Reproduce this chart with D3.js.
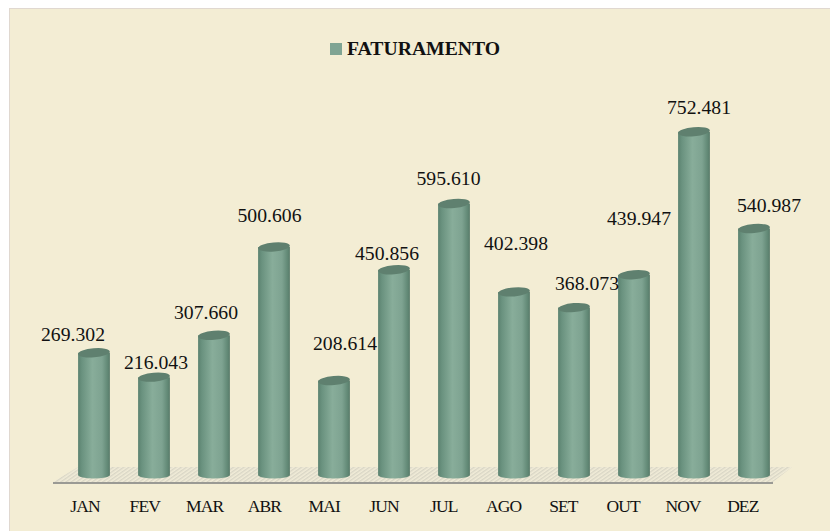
<!DOCTYPE html>
<html>
<head>
<meta charset="utf-8">
<script src="https://cdnjs.cloudflare.com/ajax/libs/d3/7.8.5/d3.min.js"></script>
<style>
  html, body { margin: 0; padding: 0; background: #fff; }
  text { font-family: "Liberation Serif", serif; fill: #111; }
</style>
</head>
<body>
<svg id="chart"></svg>
<script>
var months = ["JAN","FEV","MAR","ABR","MAI","JUN","JUL","AGO","SET","OUT","NOV","DEZ"];
var faturamento = [269302,216043,307660,500606,208614,450856,595610,402398,368073,439947,752481,540987];
var valueLabels = ["269.302","216.043","307.660","500.606","208.614","450.856","595.610","402.398","368.073","439.947","752.481","540.987"];

// the labels were dragged by hand in the original, so each one has its own nudge
var labelDx = [-21,2,-8,-4.5,11,-7,-5.5,2,13,5,5,15];
var labelDy = [-12,-8,-16,-25,-31,-10,-19,-42,-18,-50,-18,-16];

var screen = { width: 830, height: 531 };

var svg = d3.select("#chart")
  .attr("width", screen.width)
  .attr("height", screen.height)
  .style("display", "block");

var xScale = d3.scaleBand()
  .domain(months)
  .range([64, 784])
  .paddingInner(0.47)
  .paddingOuter(0.235);

var yScale = d3.scaleLinear()
  .domain([0, 800000])
  .range([476, 110]);

var defs = svg.append("defs");

var grad = defs.append("linearGradient").attr("id", "cyl");
grad.selectAll("stop")
  .data([[0,"#5b8270"],[0.12,"#6a927f"],[0.45,"#88ad9a"],[0.75,"#7ea391"],[0.93,"#618875"],[1,"#587a69"]])
  .enter().append("stop")
  .attr("offset", function(d){ return d[0]; })
  .attr("stop-color", function(d){ return d[1]; });

var hatch = defs.append("pattern")
  .attr("id", "hatch")
  .attr("width", 3).attr("height", 3)
  .attr("patternUnits", "userSpaceOnUse")
  .attr("patternTransform", "rotate(-35)");
hatch.append("rect").attr("width", 3).attr("height", 3).attr("fill", "#f1ecd8");
hatch.append("rect").attr("width", 3).attr("height", 1.4).attr("fill", "#d9d6c6");

// chart panel, runs off the right and bottom of the picture
svg.append("rect")
  .attr("x", 9.5).attr("y", 8.5)
  .attr("width", 830).attr("height", 530)
  .attr("fill", "#f3edd4")
  .attr("stroke", "#e0d8d0");

// legend
svg.append("rect")
  .attr("x", 330).attr("y", 43)
  .attr("width", 12).attr("height", 12)
  .attr("fill", "#7fa493");
svg.append("text")
  .attr("x", 347).attr("y", 55)
  .attr("font-size", 19.7)
  .attr("font-weight", "bold")
  .text("FATURAMENTO");

// floor
var floor = d3.line();
svg.append("path")
  .attr("d", floor([[53,482],[773,482],[792,467],[78,467]]) + "Z")
  .attr("fill", "url(#hatch)");
svg.append("line")
  .attr("x1", 53).attr("x2", 773)
  .attr("y1", 483).attr("y2", 483)
  .attr("stroke", "#9a9a94").attr("stroke-width", 2);

// cylinders
var ryTop = 4.5;
var ryBottom = 3.5;
var bars = svg.append("g").selectAll("g")
  .data(faturamento)
  .enter().append("g");

bars.append("path")
  .attr("fill", "url(#cyl)")
  .attr("d", function(d, i) {
    var x0 = xScale(months[i]);
    var x1 = x0 + xScale.bandwidth();
    var r = xScale.bandwidth() / 2;
    var base = yScale(0) - 1;
    return "M" + x0 + "," + yScale(d) +
      "L" + x0 + "," + base +
      "A" + r + "," + ryBottom + " 0 0 0 " + x1 + "," + base +
      "L" + x1 + "," + yScale(d) + "Z";
  });

bars.append("ellipse")
  .attr("cx", function(d, i){ return xScale(months[i]) + xScale.bandwidth() / 2; })
  .attr("cy", function(d){ return yScale(d); })
  .attr("rx", xScale.bandwidth() / 2)
  .attr("ry", ryTop)
  .attr("fill", "#5f806f")
  .attr("transform", function(d, i){
    return "rotate(-5," + (xScale(months[i]) + xScale.bandwidth() / 2) + "," + yScale(d) + ")";
  });

// data labels
svg.append("g").selectAll("text")
  .data(faturamento)
  .enter().append("text")
  .attr("x", function(d, i){ return xScale(months[i]) + xScale.bandwidth() / 2 + labelDx[i]; })
  .attr("y", function(d, i){ return yScale(d) + labelDy[i]; })
  .attr("text-anchor", "middle")
  .attr("font-size", 19.7)
  .text(function(d, i){ return valueLabels[i]; });

// month labels
svg.append("g").selectAll("text")
  .data(months)
  .enter().append("text")
  .attr("x", function(d, i){ return xScale(d) + xScale.bandwidth() / 2 - 9 - i * 0.2; })
  .attr("y", 512)
  .attr("text-anchor", "middle")
  .attr("font-size", 17.5)
  .attr("letter-spacing", "-0.9px")
  .text(function(d){ return d; });
</script>
</body>
</html>
